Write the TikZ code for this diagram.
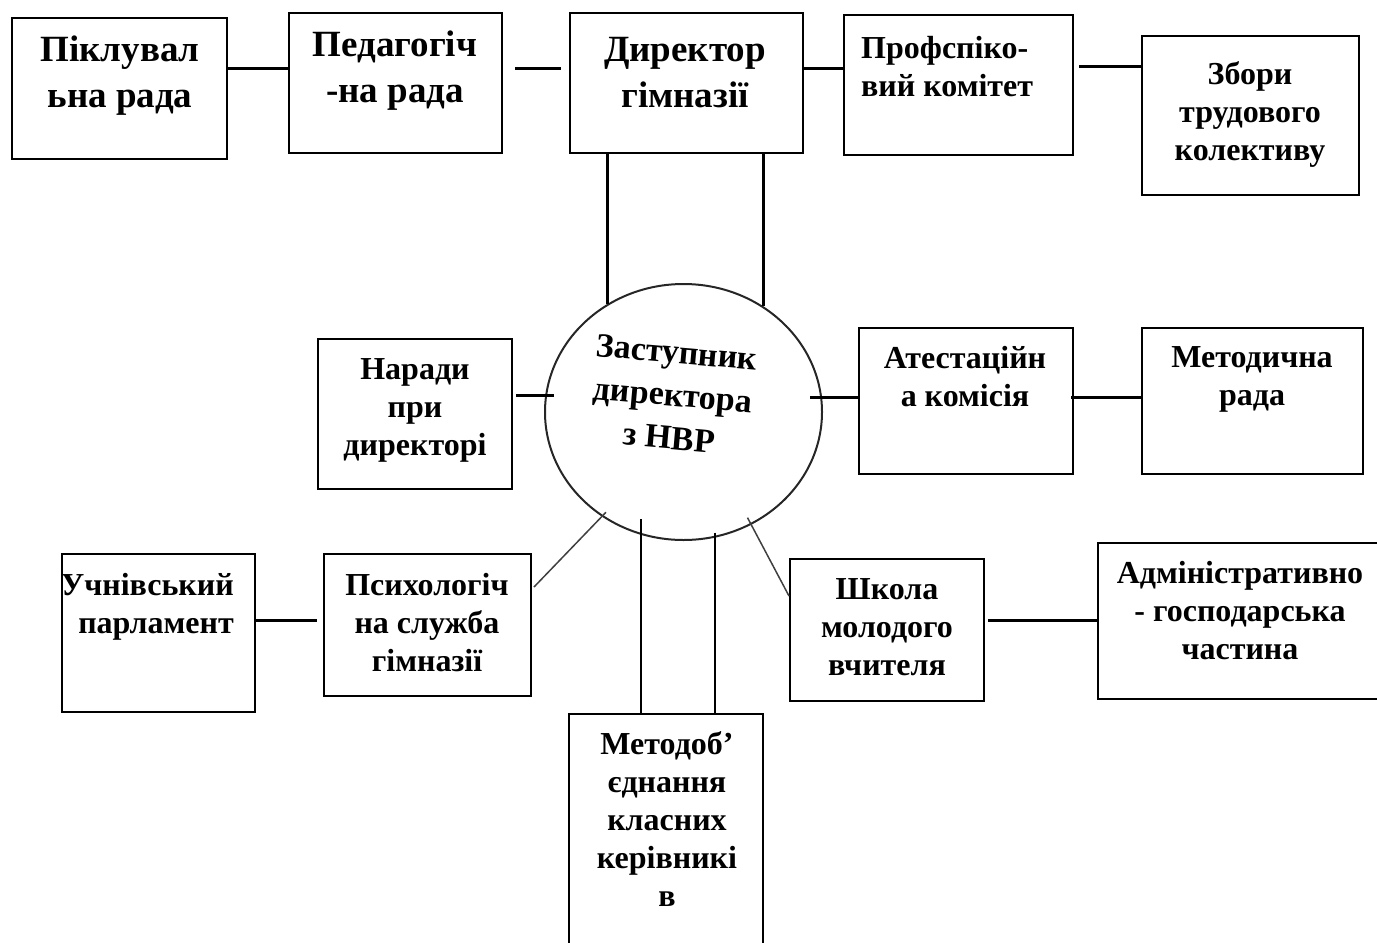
\documentclass[tikz,border=0pt]{standalone}
\usepackage{fontspec}
\setmainfont{Liberation Serif}
\usetikzlibrary{shapes.geometric,calc}
\tikzset{
  box/.style={draw, line width=2pt, inner sep=0pt, rectangle},
  txt/.style={inner sep=0pt, align=center, anchor=north, font=\fontsize{32}{38}\selectfont\bfseries},
  big/.style={font=\fontsize{37}{46}\selectfont\bfseries},
  link/.style={line width=3pt},
  vlink/.style={line width=2.5pt},
  dlink/.style={line width=1.5pt, draw=black!75},
}
\begin{document}
\begin{tikzpicture}[x=1pt,y=-1pt]
\useasboundingbox (0,0) rectangle (1377,943);
% boxes
\node[box, minimum width=215pt, minimum height=141pt] (pik) at (119.5,88.5) {};
\node[box, minimum width=213pt, minimum height=140pt] (ped) at (395.5,83) {};
\node[box, minimum width=233pt, minimum height=140pt] (dir) at (686.5,83) {};
\node[box, minimum width=229pt, minimum height=140pt] (prof) at (958.5,85) {};
\node[box, minimum width=217pt, minimum height=159pt] (zb) at (1250.5,115.5) {};
\node[draw, ellipse, line width=2pt, draw=black!85, inner sep=0pt, minimum width=277pt, minimum height=256pt] (ell) at (683.5,412) {};
\node[box, minimum width=194pt, minimum height=150pt] (nar) at (415,414) {};
\node[box, minimum width=214pt, minimum height=146pt] (att) at (966,401) {};
\node[box, minimum width=221pt, minimum height=146pt] (met) at (1252.5,401) {};
\node[box, minimum width=193pt, minimum height=158pt] (uch) at (158.5,633) {};
\node[box, minimum width=207pt, minimum height=142pt] (psy) at (427.5,625) {};
\node[box, minimum width=194pt, minimum height=142pt] (sch) at (887,630) {};
\node[box, minimum width=302pt, minimum height=156pt] (adm) at (1249,621) {};
\node[box, minimum width=194pt, minimum height=246pt] (mto) at (666,837) {};
% texts
\node[txt, big] (pikt) at (120,36) {Піклувал\\ьна рада};
\node[txt, big] (pedt) at (395,31) {Педагогіч\\-на рада};
\node[txt, big] (dirt) at (685,37) {Директор\\гімназії};
\node[txt, anchor=north west, align=left] (proft) at (861,36) {Профспіко-\\вий комітет};
\node[txt] (zbt) at (1250,61) {Збори\\трудового\\колективу};
\node[txt, anchor=center, rotate=-5, font=\fontsize{34}{43}\selectfont\bfseries] (ellt) at (673,395) {Заступник\\директора\\з НВР};
\node[txt] (nart) at (415,358) {Наради\\при\\директорі};
\node[txt] (attt) at (965,346) {Атестаційн\\а комісія};
\node[txt] (mett) at (1252,346) {Методична\\рада};
\node[txt, anchor=north east, align=right] (ucht) at (234,573) {Учнівський\\парламент};
\node[txt] (psyt) at (427,573) {Психологіч\\на служба\\гімназії};
\node[txt] (scht) at (887,578) {Школа\\молодого\\вчителя};
\node[txt] (admt) at (1240,561) {Адміністративно\\- господарська\\частина};
\node[txt] (mtot) at (667,731) {Методоб’\\єднання\\класних\\керівникі\\в};
% connectors
\coordinate (yt) at (0,68);
\coordinate (yt2) at (0,66);
\coordinate (yb) at (0,620);
\draw[link] (pik.east |- yt) -- (ped.west |- yt);
\draw[link, shorten <=12pt, shorten >=8pt] (ped.east |- yt) -- (dir.west |- yt);
\draw[link] (dir.east |- yt) -- (prof.west |- yt);
\draw[link, shorten <=5pt] (prof.east |- yt2) -- (zb.west |- yt2);
\draw[vlink] (dir.south -| ell.125.6) -- (ell.125.6);
\draw[vlink] (dir.south -| ell.53.3) -- (ell.53.3);
\draw[link, shorten <=3pt, shorten >=-9pt] (nar.east |- ell.173.4) -- (ell.173.4);
\draw[link, shorten <=-12pt] (ell.6.6) -- (att.west |- ell.6.6);
\draw[link, shorten <=-3pt] (att.east |- ell.6.6) -- (met.west |- ell.6.6);
\draw[dlink, shorten <=-6pt] (ell.232.9) -- ($(psy.north east)+(2,34)$);
\draw[dlink, shorten <=-8pt] (ell.301.2) -- ($(sch.north west)+(0,38)$);
\draw[vlink, shorten <=-16pt] (ell.251.2) -- (mto.north -| ell.251.2);
\draw[vlink, shorten <=-5pt] (ell.284.7) -- (mto.north -| ell.284.7);
\draw[link, shorten >=6pt] (uch.east |- yb) -- (psy.west |- yb);
\draw[link, shorten <=3pt] (sch.east |- yb) -- (adm.west |- yb);
\end{tikzpicture}
\end{document}
